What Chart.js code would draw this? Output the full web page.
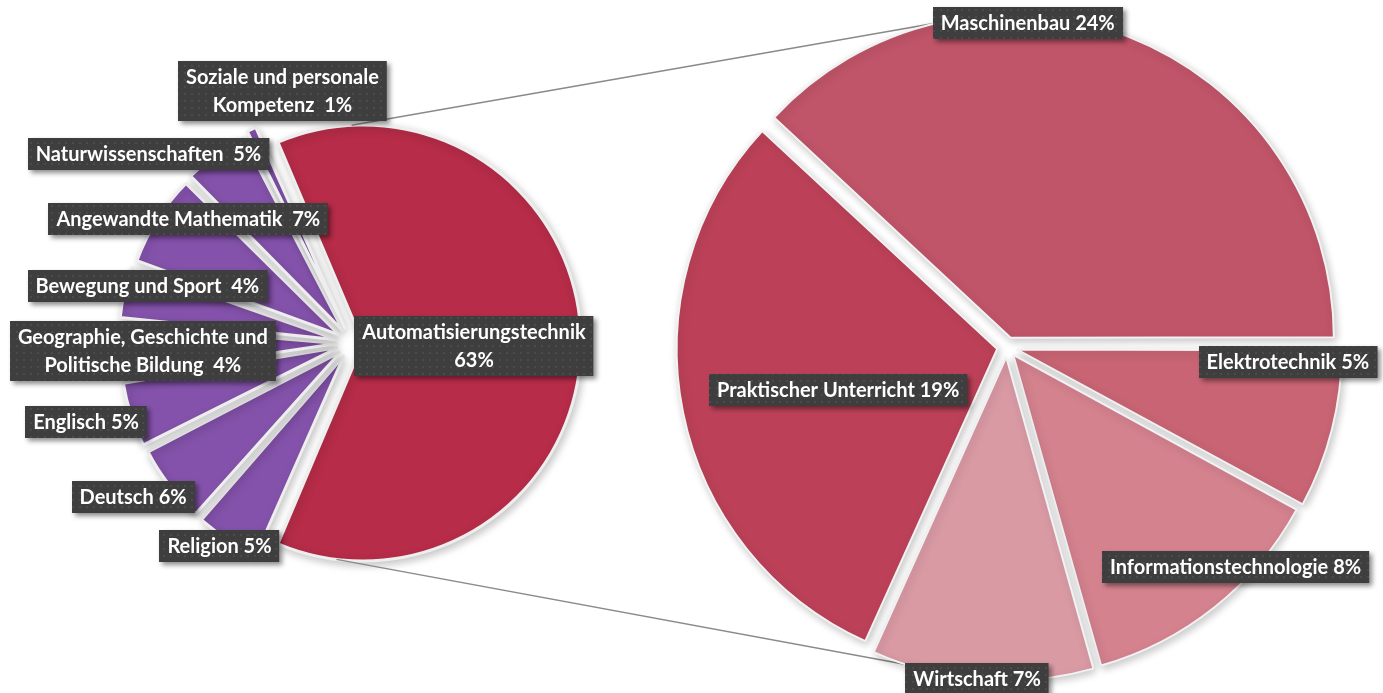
<!DOCTYPE html>
<html>
<head>
<meta charset="utf-8">
<script src="https://cdn.jsdelivr.net/npm/chart.js@4"></script>
<style>
  html, body { margin: 0; background: #fff; }
  #wrap { position: relative; width: 1383px; height: 693px; }
  #wrap canvas { position: absolute; left: 0; top: 0; }
</style>
</head>
<body>
<div id="wrap">
  <canvas id="leftPie" width="1383" height="693"></canvas>
  <canvas id="rightPie" width="1383" height="693"></canvas>
</div>
<script>
// first pie: share of all lessons
const subjectNames = [
  'Automatisierungstechnik\n', 'Religion ', 'Deutsch ', 'Englisch ',
  'Geographie, Geschichte und\nPolitische Bildung  ', 'Bewegung und Sport  ',
  'Angewandte Mathematik  ', 'Naturwissenschaften  ', 'Soziale und personale\nKompetenz  '
]
const subjectShares = [63, 5, 6, 5, 4, 4, 7, 5, 1]

// second pie: split of Automatisierungstechnik
const techNames = ['Maschinenbau ', 'Elektrotechnik ', 'Informationstechnologie ', 'Wirtschaft ', 'Praktischer Unterricht ']
const techShares = [24, 5, 8, 7, 19]

// label placement (fraction of radius along the slice middle, then a nudge in px)
const leftLabelDepth = [0.5, 1, 1, 1, 1, 1, 1, 1, 1]
const leftLabelNudge = [[2, 3], [-8, 7], [-36, 12], [-45, 7], [24, 1], [23, -6], [31, 0], [-67, -1], [31, -38]]
const rightLabelDepth = [1, 1, 1, 1, 0.5]
const rightLabelNudge = [[-101, -14], [-44, -68], [21, -40], [-5, -1], [-2, 9]]

const FONT = 'bold 20px Lato, "Open Sans", sans-serif'

const sum = a => a.reduce((s, v) => s + v, 0)

// dotted fill for the label boxes
const tile = document.createElement('canvas')
tile.width = 7
tile.height = 7
const tctx = tile.getContext('2d')
tctx.fillStyle = '#3e3e3e'
tctx.fillRect(0, 0, 7, 7)
tctx.fillStyle = '#4b4b4b'
tctx.fillRect(2, 2, 2, 2)

// where an arc is really painted (Chart.js v4 moves it by offset/4)
function arcGeom(arc) {
  const p = arc.getProps(['x', 'y', 'startAngle', 'endAngle', 'outerRadius', 'circumference'], true)
  const mid = (p.startAngle + p.endAngle) / 2
  const t = (arc.options.offset || 0) / 4
  const fix = 1 - Math.sin(Math.min(Math.PI, p.circumference))
  return {
    cx: p.x + Math.cos(mid) * t,
    cy: p.y + Math.sin(mid) * t,
    r: p.outerRadius + t * fix,
    mid
  }
}

function pointOn(g, deg) {
  const a = deg * Math.PI / 180
  return [g.cx + Math.cos(a) * g.r, g.cy + Math.sin(a) * g.r]
}

function drawLabel(ctx, lines, x, y) {
  ctx.save()
  ctx.font = FONT
  const lh = 28
  const w = Math.max(...lines.map(l => ctx.measureText(l).width)) + 16
  const h = lines.length * lh + 4
  const bx = Math.round(x - w / 2)
  const by = Math.round(y - h / 2)
  ctx.shadowColor = 'rgba(0,0,0,0.45)'
  ctx.shadowBlur = 5
  ctx.shadowOffsetX = 3
  ctx.shadowOffsetY = 3
  ctx.fillStyle = ctx.createPattern(tile, 'repeat')
  ctx.fillRect(bx, by, w, h)
  ctx.shadowColor = 'transparent'
  ctx.fillStyle = '#ffffff'
  ctx.textAlign = 'center'
  ctx.textBaseline = 'middle'
  lines.forEach((l, i) => ctx.fillText(l, x, by + 2 + lh * i + lh / 2 + 1))
  ctx.restore()
}

function labelPie(ctx, chart, names, values, depth, nudge) {
  chart.getDatasetMeta(0).data.forEach((arc, i) => {
    const g = arcGeom(arc)
    const d = g.r * depth[i]
    const x = g.cx + Math.cos(g.mid) * d + nudge[i][0]
    const y = g.cy + Math.sin(g.mid) * d + nudge[i][1]
    drawLabel(ctx, (names[i] + values[i] + '%').split('\n'), x, y)
  })
}

const pieShadow = {
  id: 'pieShadow',
  beforeDatasetsDraw(chart) {
    const ctx = chart.ctx
    ctx.save()
    ctx.shadowColor = 'rgba(0,0,0,0.22)'
    ctx.shadowBlur = 9
    ctx.shadowOffsetX = 2
    ctx.shadowOffsetY = 3
  },
  afterDatasetsDraw(chart) {
    chart.ctx.restore()
  }
}

const baseOptions = {
  responsive: false,
  animation: false,
  events: [],
  plugins: { legend: { display: false }, tooltip: { enabled: false } }
}

const leftChart = new Chart(document.getElementById('leftPie'), {
  type: 'pie',
  data: {
    labels: subjectNames.map(n => n.replace('\n', ' ').trim()),
    datasets: [{
      data: subjectShares,
      backgroundColor: subjectShares.map((v, i) => i === 0 ? '#b72c48' : '#8452ab'),
      borderColor: '#eeeeee',
      borderWidth: 3,
      offset: subjectShares.map((v, i) => i === 0 ? 44 : 60)
    }]
  },
  options: {
    ...baseOptions,
    rotation: 90 - subjectShares[0] / sum(subjectShares) * 180,
    radius: 207,
    layout: { padding: { left: 0, right: 679, top: 0, bottom: 7 } }
  },
  plugins: [pieShadow]
})

const connectors = {
  id: 'connectors',
  beforeDatasetsDraw(chart) {
    const ctx = chart.ctx
    const red = arcGeom(leftChart.getDatasetMeta(0).data[0])
    const arcs = chart.getDatasetMeta(0).data
    const top = arcGeom(arcs[0])
    const bottom = arcGeom(arcs[3])
    ctx.save()
    ctx.strokeStyle = '#8a8a8a'
    ctx.lineWidth = 1.5
    ctx.beginPath()
    ctx.moveTo(...pointOn(red, -93))
    ctx.lineTo(...pointOn(top, -102.5))
    ctx.moveTo(...pointOn(red, 97))
    ctx.lineTo(...pointOn(bottom, 108.3))
    ctx.stroke()
    ctx.restore()
  },
  afterDraw(chart) {
    const ctx = chart.ctx
    labelPie(ctx, leftChart, subjectNames, subjectShares, leftLabelDepth, leftLabelNudge)
    labelPie(ctx, chart, techNames, techShares, rightLabelDepth, rightLabelNudge)
  }
}

const rightChart = new Chart(document.getElementById('rightPie'), {
  type: 'pie',
  data: {
    labels: techNames.map(n => n.trim()),
    datasets: [{
      data: techShares,
      backgroundColor: ['#c05468', '#c86473', '#d4828e', '#d99aa4', '#bc4158'],
      borderColor: '#f2f2f2',
      borderWidth: 2,
      offset: 40
    }]
  },
  options: {
    ...baseOptions,
    rotation: 90 - techShares[0] / sum(techShares) * 360,
    radius: 320,
    layout: { padding: { left: 631, right: 0, top: 1, bottom: 0 } }
  },
  plugins: [connectors, pieShadow]
})
</script>
</body>
</html>
